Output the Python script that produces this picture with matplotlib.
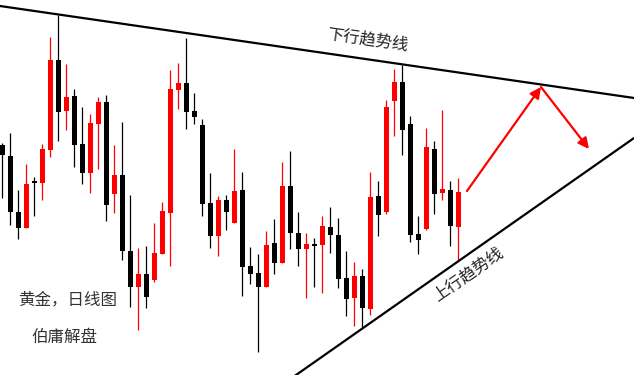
import numpy as np
import matplotlib.pyplot as plt

plt.rcParams['font.family'] = ['Noto Sans CJK SC', 'DejaVu Sans']

# gold daily candles (price units)
opens = [230, 219, 163, 147, 194, 192, 225, 315, 264, 279, 231, 202, 251, 273, 181, 200,
         124, 88, 101, 95, 121, 162, 285, 292, 264, 250, 172, 139, 175, 152, 185, 109,
         102, 88, 132, 112, 189, 142, 126, 131, 130, 148, 140, 97, 77, 99, 66, 179,
         163, 274, 293, 251, 141, 146, 226, 182, 185, 148]
highs = [232, 242, 185, 211, 198, 231, 338, 360, 311, 286, 268, 261, 278, 280, 230, 253,
         180, 127, 129, 152, 173, 305, 312, 337, 282, 256, 202, 179, 180, 226, 203, 128,
         121, 144, 156, 213, 224, 163, 142, 137, 159, 168, 157, 124, 113, 106, 203, 194,
         275, 306, 310, 259, 159, 247, 234, 265, 194, 197]
lows = [177, 150, 136, 147, 159, 175, 218, 234, 245, 208, 191, 182, 206, 154, 162, 115,
        68, 45, 67, 93, 121, 109, 266, 246, 251, 159, 127, 119, 145, 152, 79, 91,
        23, 88, 101, 112, 126, 109, 77, 88, 82, 122, 87, 59, 49, 47, 60, 139,
        161, 239, 220, 133, 121, 145, 161, 175, 129, 115]
closes = [220, 163, 147, 191, 192, 226, 315, 263, 278, 230, 202, 252, 273, 170, 200, 124,
          88, 101, 78, 122, 164, 286, 292, 263, 258, 171, 139, 175, 163, 184, 108, 101,
          88, 130, 112, 189, 142, 126, 131, 129, 149, 140, 96, 76, 99, 67, 178, 160,
          268, 293, 245, 140, 135, 228, 181, 186, 149, 183]

# trendlines (candle index, price)
down_x = [-1, 80]
down_y = [369.8, 275.8]
up_x = [36, 80]
up_y = [-3.9, 242.9]

# projected move
path_x = [58.06, 67.31, 73.31]
path_y = [184, 288, 226]

opens = np.array(opens)
closes = np.array(closes)
highs = np.array(highs)
lows = np.array(lows)
idx = np.arange(len(opens))
colors = np.where(closes >= opens, '#ff0000', '#000000')

fig = plt.figure(figsize=(6.34, 3.75), dpi=100)
ax = fig.add_axes([0, 0, 1, 1])

ax.vlines(idx, lows, highs, colors=colors, linewidth=0.9, zorder=2)
body_h = np.maximum(np.abs(closes - opens), 2)
body_b = np.minimum(opens, closes)
ax.bar(idx, body_h, bottom=body_b, width=0.62, color=colors, linewidth=0, zorder=3)

ax.plot(down_x, down_y, color='black', linewidth=1.6, zorder=4)
ax.plot(up_x, up_y, color='black', linewidth=1.6, zorder=4)

for i in range(len(path_x) - 1):
    ax.annotate('', xy=(path_x[i + 1], path_y[i + 1]), xytext=(path_x[i], path_y[i]),
                arrowprops=dict(arrowstyle='-|>', color='#ff0000', lw=1.6,
                                mutation_scale=16, shrinkA=0, shrinkB=0), zorder=5)

ax.text(45.6, 335, '下行趋势线', fontsize=11.8, color='#222222', rotation=-8.2,
        ha='center', va='center')
ax.text(58.2, 100, '上行趋势线', fontsize=11.8, color='#222222', rotation=35,
        ha='center', va='center')
ax.text(8.1, 75, '黄金，日线图', fontsize=11.9, color='#333333', ha='center', va='center')
ax.text(7.8, 38, '伯庸解盘', fontsize=11.9, color='#333333', ha='center', va='center')

ax.set_xlim(-0.3125, 78.94)
ax.set_ylim(0, 375)
ax.axis('off')

fig.savefig('out.png', dpi=100, facecolor='white')
